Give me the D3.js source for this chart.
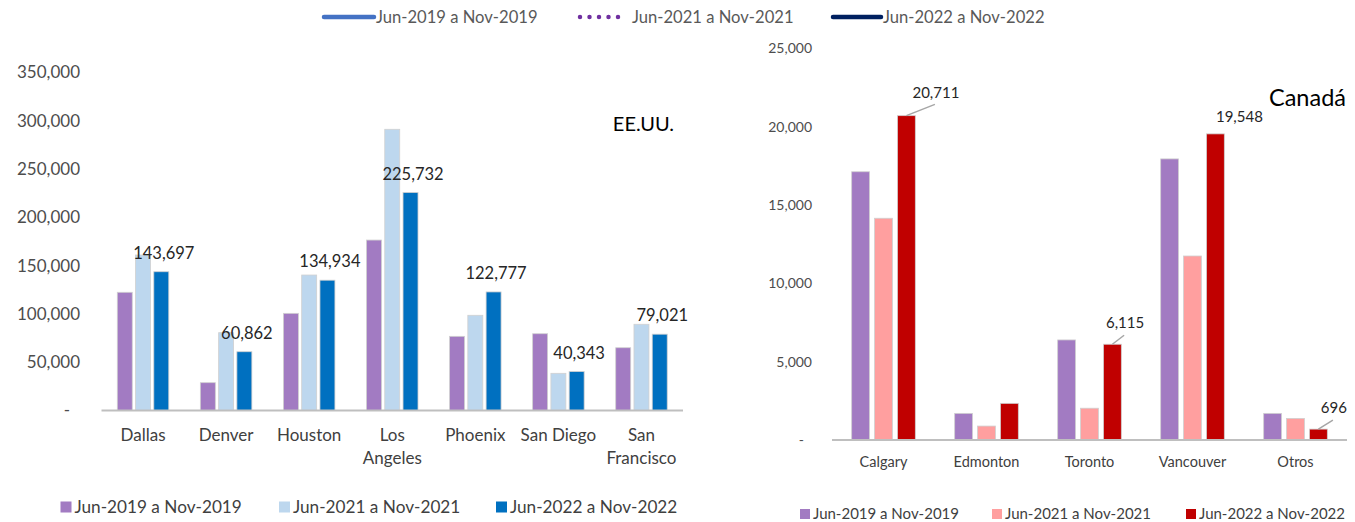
<!DOCTYPE html>
<html>
<head>
<meta charset="utf-8">
<script src="https://cdn.jsdelivr.net/npm/d3@7"></script>
<style>
  body { margin: 0; background: #fff; }
  svg { display: block; font-family: Lato, "Open Sans", sans-serif; }
</style>
</head>
<body>
<svg id="chart" width="1355" height="522"></svg>
<script>
// series labels (shared by both panels)
const seriesNames = ["Jun-2019 a Nov-2019", "Jun-2021 a Nov-2021", "Jun-2022 a Nov-2022"];

// EE.UU. panel
const usCities = ["Dallas", "Denver", "Houston", "Los Angeles", "Phoenix", "San Diego", "San Francisco"];
const us2019 = [122400, 28800, 100600, 176500, 76800, 79500, 65000];
const us2021 = [161000, 80600, 140300, 291200, 98600, 38500, 89300];
const us2022 = [143697, 60862, 134934, 225732, 122777, 40343, 79021];
const usTicks = [0, 50000, 100000, 150000, 200000, 250000, 300000, 350000];

// Canadá panel
const caCities = ["Calgary", "Edmonton", "Toronto", "Vancouver", "Otros"];
const ca2019 = [17130, 1700, 6390, 17950, 1700];
const ca2021 = [14160, 890, 2030, 11750, 1380];
const ca2022 = [20711, 2340, 6115, 19548, 696];
const caLabelled = ["Calgary", "Toronto", "Vancouver", "Otros"];
const caTicks = [0, 5000, 10000, 15000, 20000, 25000];

const svg = d3.select("#chart");
const fmt = d3.format(",");
const tickFmt = v => v === 0 ? "-" : fmt(v);

function drawPanel(o) {
  const g = svg.append("g");
  const y = d3.scaleLinear().domain([0, o.max]).range([o.base, o.top]);
  const x0 = d3.scaleBand().domain(o.cats).range([o.left, o.right])
    .paddingInner(o.padOuter).paddingOuter(o.padOuter / 2);
  const x1 = d3.scaleBand().domain([0, 1, 2]).range([0, x0.bandwidth()]).paddingInner(o.padInner);

  // y tick labels (no axis line, as in the original)
  g.selectAll(".ytick").data(o.ticks).enter().append("text")
    .attr("x", d => d === 0 ? o.tickX - o.zeroShift : o.tickX)
    .attr("y", d => y(d))
    .attr("dy", "0.35em")
    .attr("text-anchor", "end")
    .attr("font-size", o.tickSize)
    .attr("fill", "#4d4d4d")
    .text(tickFmt);

  const rows = o.cats.map((c, i) => ({ cat: c, vals: o.series.map(s => s[i]) }));
  const grp = g.selectAll(".grp").data(rows).enter().append("g")
    .attr("transform", d => `translate(${x0(d.cat)},0)`);
  grp.selectAll("rect").data(d => d.vals).enter().append("rect")
    .attr("x", (d, i) => x1(i))
    .attr("width", x1.bandwidth())
    .attr("y", d => y(d))
    .attr("height", d => o.base - y(d))
    .attr("fill", (d, i) => o.colors[i])
    .attr("stroke", "#d0d0d0")
    .attr("stroke-width", 0.8);

  // baseline
  g.append("line")
    .attr("x1", o.left).attr("x2", o.right)
    .attr("y1", o.base).attr("y2", o.base)
    .attr("stroke", "#bfbfbf").attr("stroke-width", 2);

  // category labels (wrap two-word names where needed)
  const cl = g.selectAll(".cat").data(o.cats).enter().append("text")
    .attr("x", d => x0(d) + x0.bandwidth() / 2)
    .attr("y", o.catY)
    .attr("text-anchor", "middle")
    .attr("font-size", o.catSize)
    .attr("fill", "#404040");
  cl.each(function(d) {
    const parts = o.wrap.includes(d) ? d.split(" ") : [d];
    d3.select(this).selectAll("tspan").data(parts).enter().append("tspan")
      .attr("x", x0(d) + x0.bandwidth() / 2)
      .attr("dy", (p, i) => i === 0 ? "0.35em" : o.catLine)
      .text(p => p);
  });

  // data labels on last series
  const last = o.series[2];
  o.cats.forEach((c, i) => {
    const off = o.labelOff(c);
    if (!off) return;
    const cx = x0(c) + x1(2) + x1.bandwidth() / 2;
    const ty = y(last[i]);
    const lx = cx + off[0], ly = ty + off[1];
    if (off[2]) {
      g.append("line")
        .attr("x1", cx).attr("y1", ty)
        .attr("x2", lx - 1).attr("y2", ly + 12)
        .attr("stroke", "#a6a6a6").attr("stroke-width", 1.5);
    }
    g.append("text")
      .attr("x", lx).attr("y", ly).attr("dy", "0.35em")
      .attr("text-anchor", "middle")
      .attr("font-size", o.valSize)
      .attr("fill", "#262626")
      .text(fmt(last[i]));
  });

  g.append("text")
    .attr("x", o.title[1]).attr("y", o.title[2]).attr("dy", "0.35em")
    .attr("text-anchor", "end")
    .attr("font-size", o.title[3])
    .attr("fill", "#000")
    .text(o.title[0]);

  // bottom legend
  o.legendX.forEach((lx, i) => {
    g.append("rect")
      .attr("x", lx).attr("y", o.legendY - o.sq / 2)
      .attr("width", o.sq).attr("height", o.sq)
      .attr("fill", o.colors[i]);
    g.append("text")
      .attr("x", lx + o.sq + 3).attr("y", o.legendY).attr("dy", "0.35em")
      .attr("font-size", o.legendSize)
      .attr("fill", "#404040")
      .text(seriesNames[i]);
  });
}

drawPanel({
  cats: usCities, series: [us2019, us2021, us2022], ticks: usTicks, max: 350000,
  left: 101.5, right: 683, base: 410.5, top: 72.5,
  padOuter: 0.38, padInner: 0.18,
  colors: ["#a27bc2", "#bdd7ee", "#0070c0"],
  tickX: 80, zeroShift: 10, tickSize: 17,
  catY: 435, catSize: 17, catLine: 23, wrap: ["Los Angeles", "San Francisco"],
  valSize: 16.5,
  labelOff: () => [2.5, -18.5, false],
  title: ["EE.UU.", 674, 124, 20],
  legendX: [60.5, 279, 496], legendY: 507, sq: 11, legendSize: 17.2
});

const caOff = {
  "Calgary": [29.5, -23.3, true],
  "Toronto": [12.7, -21, true],
  "Vancouver": [24, -17, false],
  "Otros": [15.5, -21, true]
};
drawPanel({
  cats: caCities, series: [ca2019, ca2021, ca2022], ticks: caTicks, max: 25000,
  left: 832, right: 1347, base: 440, top: 48.5,
  padOuter: 0.382, padInner: 0.22,
  colors: ["#a27bc2", "#ff9f9f", "#c00000"],
  tickX: 812, zeroShift: 8, tickSize: 14,
  catY: 462, catSize: 14.5, catLine: 18, wrap: [],
  valSize: 15,
  labelOff: c => caLabelled.includes(c) ? caOff[c] : null,
  title: ["Canadá", 1346, 98, 23.5],
  legendX: [800, 992, 1186], legendY: 514, sq: 10, legendSize: 15
});

// top legend (line-style series keys)
const topKeys = [
  { x: 324, w: 50, color: "#4472c4", dash: null },
  { x: 580, w: 42, color: "#7030a0", dash: "0 9.5" },
  { x: 833, w: 48, color: "#002060", dash: null }
];
const tl = svg.append("g");
topKeys.forEach((k, i) => {
  tl.append("line")
    .attr("x1", k.x).attr("x2", k.x + k.w)
    .attr("y1", 17).attr("y2", 17)
    .attr("stroke", k.color)
    .attr("stroke-width", 4.5)
    .attr("stroke-linecap", "round")
    .attr("stroke-dasharray", k.dash);
  tl.append("text")
    .attr("x", k.x + k.w + (k.dash ? 10 : 2)).attr("y", 17).attr("dy", "0.35em")
    .attr("font-size", 16.6)
    .attr("fill", "#595959")
    .text(seriesNames[i]);
});
</script>
</body>
</html>
